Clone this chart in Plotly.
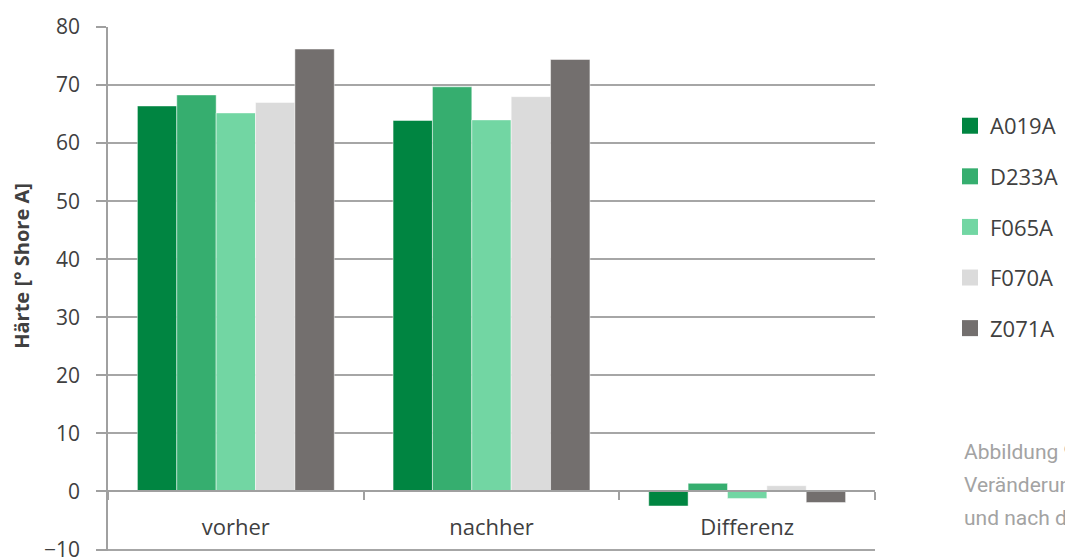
import plotly.graph_objects as go

categories = ["vorher", "nachher", "Differenz"]
series_names = ["A019A", "D233A", "F065A", "F070A", "Z071A"]
A019A = [66.4, 63.9, -2.5]
D233A = [68.3, 69.7, 1.4]
F065A = [65.2, 64.0, -1.2]
F070A = [67.0, 68.0, 1.0]
Z071A = [76.2, 74.4, -1.9]
values = [A019A, D233A, F065A, F070A, Z071A]
colors = ["#008541", "#36AE6F", "#72D6A3", "#DBDBDB", "#736F6E"]
y_ticks = [-10, 0, 10, 20, 30, 40, 50, 60, 70, 80]
captions = ["Abbildung 9", "Veränderun", "und nach de"]

fig = go.Figure()
for name, vals, col in zip(series_names, values, colors):
    fig.add_trace(go.Bar(x=categories, y=vals, name=name, showlegend=False,
                         marker=dict(color=col, line=dict(color="rgba(255,255,255,0.6)", width=0.8))))
# legend entries (square markers)
for name, col in zip(series_names, colors):
    fig.add_trace(go.Scatter(x=[None], y=[None], mode="markers", name=name, legendgroup=name,
                             marker=dict(symbol="square", size=16, color=col)))

W, H = 1065, 557
ymin, ymax = -10.25, 80
ml, mr, mt, mb = 108, 190, 27, 5.5
pw, ph = W - ml - mr, H - mt - mb
font_family = "Open Sans, Noto Sans, sans-serif"
fig.update_layout(
    width=W, height=H,
    margin=dict(l=ml, r=mr, t=mt, b=mb, autoexpand=False),
    paper_bgcolor="white", plot_bgcolor="white",
    barmode="group", bargap=0.23, bargroupgap=0,
    font=dict(family=font_family, color="#404040"),
    showlegend=True,
    legend=dict(x=(950 - ml) / pw, y=(H - mb - 105) / ph, xanchor="left", yanchor="top",
                font=dict(size=22, color="#404040"),
                itemwidth=30, tracegroupgap=19, bgcolor="rgba(0,0,0,0)"),
    xaxis=dict(type="category", anchor="free", position=(0 - ymin) / (ymax - ymin),
               showline=True, linecolor="#A0A0A0", linewidth=1.5,
               ticks="outside", ticklen=8, tickcolor="#A0A0A0", tickwidth=1.5,
               tickson="boundaries", showgrid=False,
               tickfont=dict(size=22, color="#404040"),
               ticklabelstandoff=16),
    yaxis=dict(range=[ymin, ymax], tickvals=y_ticks, showgrid=True,
               gridcolor="#A6A6A6", gridwidth=1.5, zeroline=False,
               showline=True, linecolor="#A0A0A0", linewidth=1.5,
               ticks="outside", ticklen=10, tickcolor="#A0A0A0", tickwidth=1.5,
               ticklabeloverflow="allow",
               tickfont=dict(size=21, color="#404040"), ticklabelstandoff=12),
)

fig.add_annotation(text="<b>Härte [° Shore A]</b>", xref="paper", yref="paper",
                   x=(22 - ml) / pw, y=(H - mb - 266) / ph, xanchor="center", yanchor="middle",
                   textangle=-90, showarrow=False, font=dict(size=20, color="#404040"))

for i, t in enumerate(captions):
    fig.add_annotation(text=t, xref="paper", yref="paper", x=(962 - ml) / pw,
                       y=(H - mb - (452 + 33 * i)) / ph, xanchor="left", yanchor="middle",
                       showarrow=False, font=dict(size=21, color="#A3A3A3", family="Roboto, sans-serif"))

fig.write_html("out.html")
